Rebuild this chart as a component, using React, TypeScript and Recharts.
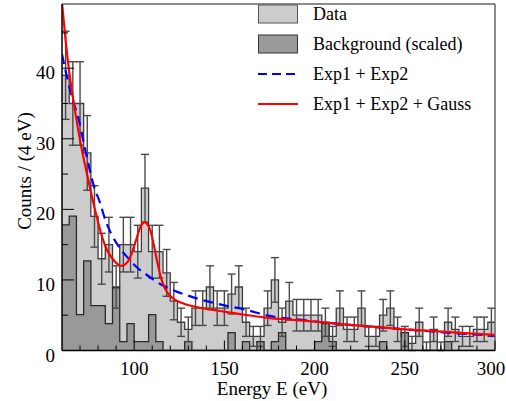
import {
  Area,
  ComposedChart,
  ErrorBar,
  Label,
  Legend,
  Line,
  ReferenceLine,
  Scatter,
  XAxis,
  YAxis,
} from "recharts"

// histogram binning: 4 eV bins starting at 60 eV
const binLow = 60
const binWidth = 4

const dataCounts = [
  39, 35, 35, 28, 19, 13, 15, 9, 15, 15,
  14, 23, 14, 14, 11, 7, 4, 3, 6, 6,
  9, 6, 6, 8, 9, 4, 2, 2, 6, 10,
  4, 7, 5, 5, 5, 5, 4, 2, 6, 3,
  3, 6, 2, 2, 5, 6, 3, 2, 1, 4,
  0, 3, 0, 4, 3, 2, 2, 3, 3, 4,
]

const bkgCounts = [
  17.8, 19.05, 5.08, 12.7, 6.35, 6.35, 3.81, 8.89, 1.27, 3.81,
  1.27, 1.27, 5.08, 1.27, 0, 0, 0, 1.27, 0, 0,
  0, 0, 0, 2.54, 0, 1.27, 0, 1.27, 0, 1.27,
  2.54, 0, 0, 0, 0, 1.27, 3.81, 1.27, 0, 0,
  0, 0, 0, 0, 1.27, 0, 0, 2.54, 0, 0,
  0, 0, 0, 1.27, 0, 0, 0, 0, 0, 0,
]

// fitted curves
const gaussEnergy = [
  60, 62, 64, 67, 70, 73, 76, 79, 82, 85, 88, 91, 93, 95, 97, 99, 101, 103,
  105, 106, 107, 109, 111, 113, 115, 117, 119, 121, 124, 128, 134, 140, 150,
  160, 175, 195, 215, 250, 275, 300,
]
const gaussFit = [
  49.2, 44, 39.5, 34.3, 29.8, 26, 22.5, 19.2, 16.3, 14.2, 13, 12.2, 12, 12.2,
  12.8, 14, 15.6, 17.2, 18.1, 18.2, 18, 17, 14.8, 12.3, 10.2, 8.8, 8, 7.5, 7,
  6.6, 6.2, 5.9, 5.5, 5.1, 4.6, 4.2, 3.75, 3.0, 2.6, 2.2,
]

const expEnergy = [
  60, 63, 66, 69, 72, 75, 78, 81, 84, 87, 90, 93, 97, 101, 106, 111, 116, 122,
  132, 140, 150, 160, 175, 194, 214, 250, 275, 300,
]
const expFit = [
  42, 38.5, 35.5, 33, 29.5, 26, 23, 21, 18.5, 16.7, 15.3, 14.2, 13, 11.9, 10.9,
  10, 9.2, 8.5, 7.6, 7.0, 6.4, 5.9, 4.9, 4.3, 3.75, 3.0, 2.5, 2.1,
]

const xTicks = [70, 80, 90, 100, 110, 120, 130, 140, 150, 160, 170, 180, 190, 200, 210, 220, 230, 240, 250, 260, 270, 280, 290, 300]
const xLabels = [100, 150, 200, 250, 300]
const yTicks = [0, 5, 10, 15, 20, 25, 30, 35, 40, 45]
const yLabels = [0, 10, 20, 30, 40]
const yMax = 49.1

const serif = "'Liberation Serif', 'DejaVu Serif', serif"

const stepRows = (counts: number[]) =>
  counts
    .map((v, i) => ({ x: binLow + i * binWidth, v }))
    .concat({ x: binLow + counts.length * binWidth, v: counts[counts.length - 1] })

const dataSteps = stepRows(dataCounts)
const bkgSteps = stepRows(bkgCounts)
const errRows = dataCounts.map((v, i) => ({
  x: binLow + (i + 0.5) * binWidth,
  v,
  err: v > 0 ? Math.sqrt(v) : [0, 1.2],
}))
const gaussRows = gaussEnergy.map((x, i) => ({ x, y: gaussFit[i] }))
const expRows = expEnergy.map((x, i) => ({ x, y: expFit[i] }))

const legendItems = [
  { label: "Data", kind: "box", color: "#cccccc", edge: "#555555" },
  { label: "Background (scaled)", kind: "box", color: "#999999", edge: "#333333" },
  { label: "Exp1 + Exp2", kind: "dash", color: "#0000ff", edge: "" },
  { label: "Exp1 + Exp2 + Gauss", kind: "line", color: "#ff0000", edge: "" },
]

function XTick(props: any) {
  const { x, y, payload } = props
  const major = xLabels.includes(payload.value)
  // last label would run off the page edge, nudge it in a bit
  const shift = payload.value === 300 ? -4 : 0
  return (
    <g>
      <line x1={x} x2={x} y1={y} y2={y - (major ? 10 : 5)} stroke="#000" strokeWidth={1} />
      {major && (
        <text x={x + shift} y={y + 24} textAnchor="middle" fontFamily={serif} fontSize={19} fill="#000">
          {payload.value}
        </text>
      )}
    </g>
  )
}

function YTick(props: any) {
  const { x, y, payload } = props
  const major = yLabels.includes(payload.value)
  return (
    <g>
      <line x1={x} x2={x + (major ? 12 : 6)} y1={y} y2={y} stroke="#000" strokeWidth={1} />
      {major && (
        <text x={x - 7} y={y + 11} textAnchor="end" fontFamily={serif} fontSize={19} fill="#000">
          {payload.value}
        </text>
      )}
    </g>
  )
}

function FitLegend() {
  return (
    <div style={{ fontFamily: serif, fontSize: 18, color: "#000" }}>
      {legendItems.map((item) => (
        <div key={item.label} style={{ display: "flex", alignItems: "center", height: 30 }}>
          <svg width={40} height={30} style={{ flex: "none" }}>
            {item.kind === "box" ? (
              <rect x={0.5} y={6} width={39} height={18} fill={item.color} stroke={item.edge} strokeWidth={1} />
            ) : (
              <line
                x1={0}
                x2={40}
                y1={15}
                y2={15}
                stroke={item.color}
                strokeWidth={2}
                strokeDasharray={item.kind === "dash" ? "9 5" : undefined}
              />
            )}
          </svg>
          <span style={{ marginLeft: 15, whiteSpace: "nowrap" }}>{item.label}</span>
        </div>
      ))}
    </div>
  )
}

export default function App() {
  return (
    <div style={{ position: "absolute", left: 0, top: 0 }}>
      <ComposedChart width={506} height={401} margin={{ top: 4, right: 11, bottom: 0, left: 0 }}>
        <XAxis
          dataKey="x"
          type="number"
          domain={[60, 300]}
          ticks={xTicks}
          allowDataOverflow
          height={50.5}
          tickSize={0}
          tickMargin={0}
          tickLine={false}
          axisLine={{ stroke: "#000", strokeWidth: 1.5 }}
          tick={<XTick />}
          interval={0}
        >
          <Label
            content={() => (
              <text x={272} y={395} textAnchor="middle" fontFamily={serif} fontSize={19} fill="#000">
                Energy E (eV)
              </text>
            )}
          />
        </XAxis>
        <YAxis
          type="number"
          domain={[0, yMax]}
          ticks={yTicks}
          allowDataOverflow
          width={62}
          tickSize={0}
          tickMargin={0}
          tickLine={false}
          axisLine={{ stroke: "#000", strokeWidth: 1.5 }}
          tick={<YTick />}
          interval={0}
        >
          <Label
            content={() => (
              <text
                x={24}
                y={171}
                transform="rotate(-90 24 171)"
                textAnchor="middle"
                dominantBaseline="central"
                fontFamily={serif}
                fontSize={19}
                fill="#000"
              >
                Counts / (4 eV)
              </text>
            )}
          />
        </YAxis>
        <Legend
          layout="vertical"
          align="center"
          verticalAlign="middle"
          content={<FitLegend />}
          wrapperStyle={{ top: -1, left: 258, width: 240 }}
        />
        <Area
          data={dataSteps}
          dataKey="v"
          type="stepAfter"
          fill="#cccccc"
          fillOpacity={1}
          stroke="#3c3c3c"
          strokeWidth={1.3}
          isAnimationActive={false}
        />
        <Area
          data={bkgSteps}
          dataKey="v"
          type="stepAfter"
          fill="#999999"
          fillOpacity={1}
          stroke="#2a2a2a"
          strokeWidth={1.3}
          isAnimationActive={false}
        />
        <Scatter data={errRows} dataKey="v" shape={() => <g />} isAnimationActive={false}>
          <ErrorBar dataKey="err" direction="y" width={4} stroke="#4a4a4a" strokeWidth={1.4} isAnimationActive={false} />
        </Scatter>
        <Line
          data={expRows}
          dataKey="y"
          type="monotone"
          stroke="#0000ff"
          strokeWidth={2.2}
          strokeDasharray="10 6"
          dot={false}
          isAnimationActive={false}
        />
        <Line
          data={gaussRows}
          dataKey="y"
          type="monotone"
          stroke="#ff0000"
          strokeWidth={2.2}
          dot={false}
          isAnimationActive={false}
        />
        <ReferenceLine y={yMax} stroke="#666" strokeWidth={1.5} />
        <ReferenceLine x={300} stroke="#666" strokeWidth={1.5} />
      </ComposedChart>
    </div>
  )
}
